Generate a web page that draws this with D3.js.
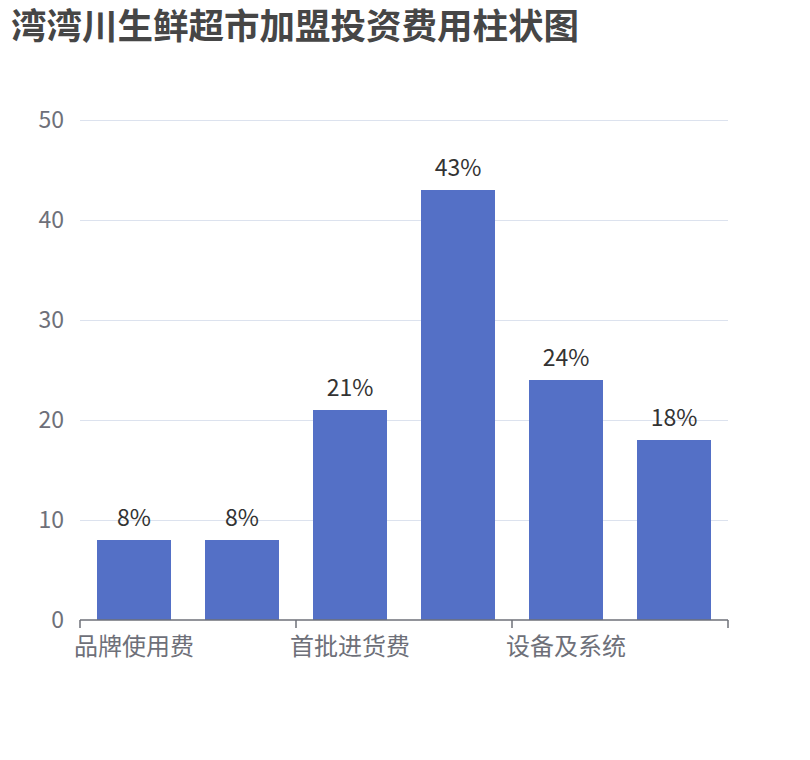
<!DOCTYPE html>
<html>
<head>
<meta charset="utf-8">
<script src="https://cdn.jsdelivr.net/npm/d3@7"></script>
<style>
  body { margin: 0; background: #fff; }
  text { font-family: "Noto Sans CJK SC", "Noto Sans", sans-serif; }
</style>
</head>
<body>
<div id="chart"></div>
<script>
// categories (only every other label is shown on the axis)
const categories = ["品牌使用费", "加盟保证金", "首批进货费", "店面装修费", "设备及系统", "流动资金"]
const values = [8, 8, 21, 43, 24, 18]
const yTicks = [0, 10, 20, 30, 40, 50]

const W = 810, H = 760
const MARGIN = {left: 80, right: 82, top: 120, bottom: 140}

let svg = d3.select("#chart").append("svg")
  .attr("width", W).attr("height", H)

svg.append("text")
  .text("湾湾川生鲜超市加盟投资费用柱状图")
  .attr("x", 11).attr("y", 39)
  .attr("fill", "#464646")
  .style("font-size", "35.5px")
  .style("font-weight", "bold")

let x = d3.scaleBand().domain(categories)
  .range([MARGIN.left, W - MARGIN.right])
  .paddingInner(0.3148).paddingOuter(0.1574)
let y = d3.scaleLinear().domain([0, 50]).range([H - MARGIN.bottom, MARGIN.top])

// grid lines
svg.append("g").selectAll("line")
  .data(yTicks.filter(d => d > 0))
  .join("line")
  .attr("x1", MARGIN.left).attr("x2", W - MARGIN.right)
  .attr("y1", d => y(d) + 0.5).attr("y2", d => y(d) + 0.5)
  .attr("stroke", "#DCE2EE")

// y axis labels
svg.append("g").selectAll("text")
  .data(yTicks)
  .join("text")
  .text(d => d)
  .attr("x", MARGIN.left - 16).attr("y", d => y(d))
  .attr("dy", "0.36em")
  .attr("text-anchor", "end")
  .attr("fill", "#6E7079")
  .style("font-size", "23px")

// bars
svg.append("g").selectAll("rect")
  .data(values)
  .join("rect")
  .attr("x", (d, i) => x(categories[i]))
  .attr("width", x.bandwidth())
  .attr("y", d => y(d))
  .attr("height", d => y(0) - y(d))
  .attr("fill", "#5470C6")

// value labels
svg.append("g").selectAll("text")
  .data(values)
  .join("text")
  .text(d => d + "%")
  .attr("x", (d, i) => x(categories[i]) + x.bandwidth() / 2)
  .attr("y", d => y(d) - 14)
  .attr("text-anchor", "middle")
  .attr("fill", "#333")
  .style("font-size", "23px")

// x axis
let step = x.step()
let axisG = svg.append("g")
axisG.append("line")
  .attr("x1", MARGIN.left).attr("x2", W - MARGIN.right)
  .attr("y1", y(0)).attr("y2", y(0))
  .attr("stroke", "#6E7079").attr("stroke-width", 1.5)
axisG.selectAll(".tick")
  .data(d3.range(0, categories.length + 1, 2))
  .join("line")
  .attr("class", "tick")
  .attr("x1", i => MARGIN.left + i * step).attr("x2", i => MARGIN.left + i * step)
  .attr("y1", y(0)).attr("y2", y(0) + 8)
  .attr("stroke", "#6E7079").attr("stroke-width", 1.5)
axisG.selectAll(".xlabel")
  .data(categories.filter((c, i) => i % 2 == 0))
  .join("text")
  .attr("class", "xlabel")
  .text(d => d)
  .attr("x", d => x(d) + x.bandwidth() / 2)
  .attr("y", y(0) + 35)
  .attr("text-anchor", "middle")
  .attr("fill", "#6E7079")
  .style("font-size", "24px")
</script>
</body>
</html>
